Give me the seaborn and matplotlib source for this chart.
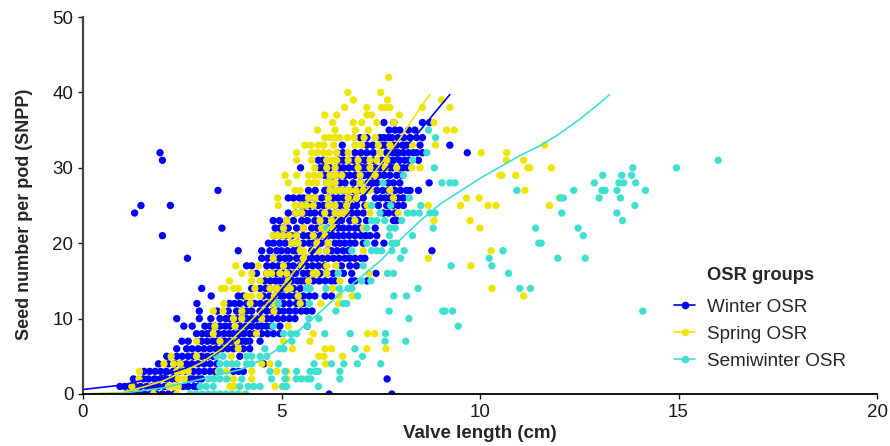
"""Seed number per pod against valve length for three OSR groups, with fitted curves."""
import pandas as pd
import seaborn as sns
import matplotlib
matplotlib.use("Agg")
import matplotlib.pyplot as plt
from matplotlib.lines import Line2D

group_names = ["Winter OSR", "Spring OSR", "Semiwinter OSR"]
group_colors = ["#0000FF", "#EEE600", "#40E0D0"]

# Step 1: points, one list of valve lengths per seed number
winter_seeds = list(range(0, 37))
winter_lengths = [
    [1.1, 1.25, 1.4, 1.55, 1.7, 1.85, 2.0, 2.15, 2.3, 6.2, 7.78],
    [0.93, 1.05, 1.18, 1.31, 1.45, 1.6, 1.75, 1.9, 2.05, 2.1, 2.53, 2.65, 2.8, 2.9],
    [1.27, 1.52, 1.65, 1.8, 1.95, 2.1, 2.25, 2.36, 2.7, 2.78, 2.9, 2.99, 7.66],
    [1.54, 1.68, 1.82, 1.96, 2.1, 2.27, 2.45, 2.6, 2.78, 2.92, 3.06, 3.2, 3.32, 3.79, 3.92, 4.04],
    [1.9, 2.15, 2.32, 2.47, 2.61, 2.75, 2.9, 3.05, 3.2, 3.37, 4.55],
    [2.11, 2.36, 2.5, 2.65, 2.78, 2.99, 3.13, 3.28, 3.95],
    [2.36, 2.61, 2.75, 2.9, 3.05, 3.2, 3.35, 3.5, 3.65, 3.79, 4.04, 4.2],
    [2.49, 2.65, 2.99, 3.13, 3.27, 3.37, 3.5, 3.58, 3.7, 3.79, 3.9, 4.0, 4.1, 4.2, 4.46],
    [2.86, 3.0, 3.12, 3.2, 3.41, 3.55, 3.68, 3.79, 3.91, 4.05, 4.2, 4.32, 4.5, 4.65, 4.8, 4.96],
    [2.54, 2.75, 3.07, 3.2, 3.32, 3.45, 3.58, 3.7, 3.83, 3.95, 4.1, 4.25, 4.4, 4.5, 4.62, 4.75, 4.96, 5.65],
    [2.36, 2.93, 3.22, 3.45, 3.6, 3.7, 3.87, 4.0, 4.12, 4.25, 4.37, 4.5, 4.63, 4.75, 4.9, 5.05, 5.2, 5.34],
    [2.93, 3.38, 3.66, 3.87, 4.0, 4.12, 4.25, 4.46, 4.63, 4.78, 4.92, 5.05, 5.2, 5.35, 5.5, 5.63, 5.77],
    [2.87, 3.69, 3.82, 3.95, 4.12, 4.21, 4.33, 4.47, 4.63, 4.78, 4.92, 5.05, 5.2, 5.38, 5.47, 5.55],
    [3.23, 3.91, 4.04, 4.54, 4.7, 4.85, 4.98, 5.05, 5.2, 5.34, 5.42, 5.55, 5.7, 5.84, 6.1, 6.26],
    [2.99, 4.25, 4.46, 4.6, 4.7, 4.88, 5.0, 5.13, 5.22, 5.3, 5.47],
    [4.58, 4.72, 4.85, 4.95, 5.05, 5.13, 5.26, 5.4, 5.5, 5.59, 5.68, 5.8, 5.95, 6.1, 6.25, 6.35, 6.77, 6.85, 7.16],
    [4.37, 4.63, 4.75, 4.88, 5.05, 5.17, 5.2, 5.35, 5.55, 5.67, 5.8, 5.97, 6.14, 6.3, 6.56, 6.77, 7.38],
    [4.12, 4.25, 4.63, 4.78, 4.92, 5.05, 5.17, 5.3, 5.47, 5.63, 5.78, 5.93, 6.09, 6.51, 6.72, 6.89],
    [2.63, 4.5, 4.65, 4.8, 4.95, 5.09, 5.2, 5.38, 5.5, 5.63, 5.76, 5.89, 6.03, 6.17, 6.31, 6.45, 6.6, 6.72, 6.85, 7.0, 7.1],
    [3.91, 4.5, 4.71, 4.88, 5.0, 5.15, 5.3, 5.38, 5.76, 5.93, 6.14, 6.26, 6.4, 6.55, 6.68, 8.79],
    [4.67, 4.8, 4.95, 5.09, 5.26, 5.42, 5.55, 5.7, 5.8, 5.89, 6.0, 6.18, 6.35, 6.47, 6.6, 6.73, 6.85, 7.06, 7.35, 7.58],
    [2.0, 4.8, 4.95, 5.1, 5.25, 5.38, 5.55, 5.68, 5.83, 5.97, 6.1, 6.18, 6.3, 6.43, 6.56, 6.7, 6.85, 7.0, 7.12, 7.23, 7.4],
    [3.5, 4.84, 4.96, 5.05, 5.17, 5.38, 5.55, 5.76, 5.9, 6.01, 6.17, 6.3, 6.43, 6.56, 6.7, 6.85, 6.98, 7.36],
    [4.79, 4.95, 5.13, 5.3, 5.51, 5.65, 5.84, 5.97, 6.1, 6.26, 6.38, 6.51, 6.72, 6.85, 6.93, 7.14, 7.82, 7.9],
    [1.3, 5.17, 5.36, 5.51, 5.59, 5.72, 5.84, 6.01, 6.2, 6.35, 6.5, 6.64, 6.77, 6.91, 7.06, 7.57, 7.7, 7.86],
    [1.46, 2.2, 5.51, 5.62, 5.72, 5.8, 5.93, 6.06, 6.18, 6.35, 6.47, 6.6, 6.75, 6.89, 7.1, 7.44, 7.65, 7.8, 7.94, 8.07],
    [5.17, 5.3, 5.45, 5.55, 5.68, 5.84, 6.01, 6.18, 6.3, 6.43, 6.56, 6.7, 6.85, 7.06, 7.36, 7.5, 7.62, 7.73, 7.82, 7.94, 8.07],
    [3.4, 5.68, 5.85, 6.09, 6.22, 6.36, 6.5, 6.64, 6.8, 6.95, 7.1, 7.4, 7.55, 7.69, 7.86, 8.0, 8.15, 8.24, 8.45],
    [6.14, 6.28, 6.47, 6.6, 6.81, 6.98, 7.18, 7.3, 7.4, 7.69, 7.82, 7.98, 8.72],
    [6.09, 6.22, 6.36, 6.5, 6.6, 6.72, 6.85, 6.98, 7.08, 7.19, 7.3, 7.46, 7.59, 7.73, 7.9, 8.03],
    [5.48, 5.97, 6.05, 6.22, 6.45, 6.56, 6.7, 6.85, 7.0, 7.06, 7.15, 7.36, 7.5, 7.73, 7.8, 7.98, 8.07, 8.18],
    [2.0, 5.93, 6.05, 6.45, 6.56, 6.7, 6.82, 6.98, 7.1, 7.32, 7.53, 7.7, 7.82, 7.98, 8.11, 8.22, 8.45],
    [1.94, 6.4, 6.55, 6.85, 7.0, 7.15, 7.31, 7.65, 7.78, 7.86, 7.95, 8.07, 8.2, 8.32, 8.4, 8.55, 9.68],
    [6.53, 7.15, 7.3, 7.52, 7.61, 7.82, 7.9, 8.05, 8.15, 8.49, 9.24],
    [6.98, 7.15, 7.48, 7.58, 7.69, 7.78, 7.93, 8.08, 8.24, 8.4, 8.55],
    [7.71, 7.86, 7.98, 8.2, 8.36],
    [7.58, 7.83, 8.55, 8.73],
]

spring_seeds = list(range(0, 43))
spring_lengths = [
    [1.77, 2.36, 2.7, 3.95],
    [1.23, 2.15, 2.28, 2.4, 3.7, 3.8, 4.84, 5.05],
    [1.41, 2.4, 2.55, 3.79, 4.25, 5.13],
    [1.42, 2.36, 2.5, 2.65, 3.41, 3.62, 4.25, 4.88, 5.13],
    [2.04, 2.28, 2.45, 4.5, 4.71, 6.11],
    [2.22, 2.86, 3.74, 5.94, 6.07, 6.54],
    [3.91, 5.28, 6.1, 6.26, 7.15, 7.63],
    [2.86, 3.45, 3.87, 5.05, 5.72],
    [3.28, 4.37, 5.8, 7.17, 7.35],
    [3.32, 3.83, 5.17],
    [3.79, 4.0, 4.5],
    [3.28, 3.53, 4.0, 4.81],
    [3.55, 4.21, 4.79, 5.47, 5.99, 6.43],
    [4.12, 4.25, 4.46, 4.82, 5.42, 6.46, 6.78, 11.1],
    [3.49, 3.58, 3.79, 3.91, 4.33, 4.71, 4.88, 5.13, 5.22, 6.29, 10.3],
    [3.69, 4.25, 4.46, 5.17, 5.68, 6.47],
    [4.0, 4.25, 4.63, 4.75, 4.96, 5.13, 5.8, 5.89, 6.14, 7.21],
    [3.85, 4.42, 5.05, 5.51, 6.14, 6.37, 9.77],
    [4.79, 5.55, 8.7],
    [5.47, 5.55, 5.93, 6.14, 7.06, 10.28],
    [5.26, 5.42, 5.89, 6.18],
    [4.79, 4.92, 5.05, 5.2, 5.38, 5.8, 6.1],
    [5.05, 5.55, 6.01, 6.3, 7.06, 10.0],
    [5.13, 5.97, 6.26, 6.85, 8.84, 9.75],
    [5.36, 5.51, 6.09, 6.35, 6.5, 6.64, 7.23, 7.94],
    [4.92, 5.34, 5.51, 5.63, 5.8, 6.18, 6.35, 6.64, 7.16, 8.7, 9.51, 10.2, 10.4, 11.75],
    [4.9, 5.68, 5.84, 6.18, 6.68, 6.89, 7.82, 9.66, 9.98, 12.0],
    [5.34, 5.47, 6.22, 6.36, 6.5, 6.64, 6.72, 6.87, 7.06, 7.23, 7.73, 11.13],
    [5.17, 5.68, 5.8, 5.89, 6.14, 6.25, 6.35, 6.98],
    [5.09, 5.38, 5.68, 5.82, 5.97, 6.22, 6.36, 6.52, 6.98, 7.36, 10.5, 10.55, 10.9],
    [5.84, 6.14, 6.35, 6.93, 7.23, 7.61, 7.9, 8.28, 8.49, 11.2, 11.25, 11.8],
    [5.38, 5.76, 6.14, 6.28, 6.39, 6.68, 6.93, 7.23, 7.4, 7.65, 10.66, 11.1],
    [5.38, 5.76, 5.9, 6.05, 6.2, 6.39, 6.68, 7.48, 10.03, 10.67],
    [5.59, 5.74, 5.93, 6.07, 6.31, 6.85, 7.02, 7.44, 7.73, 8.3, 8.88, 11.63],
    [6.09, 6.22, 6.35, 6.47, 6.66, 6.83, 7.08, 7.36],
    [5.91, 6.35, 6.86, 7.19, 9.16, 9.35],
    [6.29, 6.81, 7.02, 7.4, 7.83, 8.84],
    [6.09, 6.39, 7.15, 7.27, 7.97],
    [6.59, 7.15, 7.52, 7.62, 7.73, 8.55, 9.24],
    [6.81, 7.67, 9.03],
    [6.67, 7.5],
    [],
    [7.7],
]

semi_seeds = list(range(0, 36))
semi_lengths = [
    [2.7, 2.85, 3.0, 3.15, 3.3, 3.45, 3.6, 3.75, 3.9, 4.1],
    [2.95, 3.1, 3.28, 3.95, 4.16, 4.3, 4.46, 5.03, 5.13, 5.93],
    [3.16, 3.3, 3.45, 3.62, 4.0, 4.75, 5.09, 5.37, 5.5, 5.65, 5.74, 6.47],
    [3.45, 4.71, 5.09, 5.38, 5.72, 5.85, 5.93, 6.47],
    [3.45, 3.62, 3.75, 3.88, 4.12, 4.25, 4.92, 5.82, 6.26, 6.57, 6.91, 7.5],
    [3.37, 3.53, 4.12, 4.25, 4.46, 4.63, 7.04],
    [4.58, 4.96, 5.06, 6.85],
    [5.26, 7.61, 8.13],
    [5.05, 5.23, 5.38, 6.09, 6.73, 7.62],
    [4.79, 5.65, 9.45],
    [5.69, 5.94, 8.21],
    [6.37, 7.71, 9.06, 9.12, 9.31, 14.1],
    [4.92, 5.7, 6.56, 6.64],
    [6.92, 7.83, 8.15],
    [5.63, 5.72, 6.12, 6.46, 6.68, 6.77, 8.44, 11.0, 11.27],
    [7.02, 7.25],
    [6.43, 7.67, 7.82, 10.72],
    [7.06, 9.27, 10.3],
    [8.0, 10.23, 11.96, 12.65],
    [6.77, 7.27, 7.4, 7.52, 7.78, 8.09, 10.58],
    [7.15, 7.78, 7.9, 11.48, 11.54],
    [7.72, 8.3, 12.6],
    [6.14, 7.15, 7.73, 7.86, 8.82, 11.4, 12.47],
    [7.27, 7.4, 7.6, 8.03, 13.59],
    [7.48, 8.17, 8.32, 8.47, 8.74, 8.87, 12.06, 13.45],
    [7.27, 7.75, 8.51, 13.9],
    [8.22, 12.02, 12.1, 13.0, 13.54],
    [10.93, 12.36, 13.07, 13.15, 13.45, 14.17],
    [7.56, 9.04, 9.24, 9.37, 12.88, 13.5, 13.62, 13.92],
    [8.07, 13.09, 13.57, 13.82],
    [8.85, 13.85, 14.95],
    [8.3, 16.0],
    [8.66],
    [],
    [8.88],
    [8.7],
]

# fitted curves
winter_curve_x = [0, 1, 2, 3, 3.5, 4, 4.5, 5, 5.5, 6, 6.5, 7, 7.5, 8, 8.5, 9, 9.24]
winter_curve_y = [0.6, 1.2, 2.4, 4.2, 5.8, 7.8, 10.6, 13.8, 16.7, 20, 22.8, 25.8, 29, 32, 35, 38.2, 39.7]
spring_curve_x = [0, 1, 1.5, 2, 2.5, 3, 3.5, 4, 4.5, 5, 5.5, 6, 6.5, 7, 7.5, 8, 8.5, 8.74]
spring_curve_y = [0, 0.2, 0.9, 1.7, 2.9, 4.2, 6, 8.5, 11.2, 14.2, 17.4, 20.8, 23.9, 27, 30.5, 34, 38, 39.7]
semi_curve_x = [0, 1, 2, 3, 4, 4.5, 5, 5.5, 6, 6.5, 7, 7.5, 8, 8.5, 9, 9.5, 10, 10.5, 11, 11.5, 12, 12.5, 13, 13.26]
semi_curve_y = [0, 0.1, 0.8, 2, 3.3, 4.5, 6.3, 8.7, 11, 13.4, 15.5, 17.7, 20.5, 23, 25.2, 26.9, 28.6, 30.1, 31.6, 32.9, 34.5, 36.4, 38.5, 39.7]

# Step 2: build the tables seaborn wants
rows = []
for name, seeds, lengths in zip(group_names,
                                [winter_seeds, spring_seeds, semi_seeds],
                                [winter_lengths, spring_lengths, semi_lengths]):
    for seed, values in zip(seeds, lengths):
        for value in values:
            rows.append({"group": name, "length": value, "seeds": seed})
df = pd.DataFrame(rows)

curves = pd.concat([
    pd.DataFrame({"group": group_names[0], "length": winter_curve_x, "seeds": winter_curve_y}),
    pd.DataFrame({"group": group_names[1], "length": spring_curve_x, "seeds": spring_curve_y}),
    pd.DataFrame({"group": group_names[2], "length": semi_curve_x, "seeds": semi_curve_y}),
])

sns.set_style("ticks")
plt.rcParams["font.family"] = ["Liberation Sans", "DejaVu Sans"]
palette = dict(zip(group_names, group_colors))

# Step 3: draw
fig = plt.figure(figsize=(8.9, 4.46), dpi=100)
ax = fig.add_axes([83 / 890, 52 / 446, 794 / 890, 377 / 446])
sns.scatterplot(data=df, x="length", y="seeds", hue="group", palette=palette,
                s=28, linewidth=0, alpha=1, legend=False, ax=ax)
sns.lineplot(data=curves, x="length", y="seeds", hue="group", palette=palette,
             estimator=None, sort=False, linewidth=1.2, legend=False, ax=ax)

# Step 4: axes and labels
ax.set_xlim(0, 20)
ax.set_ylim(0, 50)
ax.set_xticks([0, 5, 10, 15, 20])
ax.set_yticks([0, 10, 20, 30, 40, 50])
ax.tick_params(labelsize=13.5, length=3.5, width=1, pad=3.5, colors="#1a1a1a")
ax.set_xlabel("Valve length (cm)", fontsize=13.5, fontweight="bold", labelpad=3)
ax.set_ylabel("Seed number per pod (SNPP)", fontsize=13, fontweight="bold", labelpad=14, y=0.477)
sns.despine(ax=ax)
ax.spines["left"].set_color("#444444")
ax.spines["left"].set_linewidth(1.6)
ax.spines["bottom"].set_color("black")
ax.spines["bottom"].set_linewidth(1.3)

handles = [Line2D([], [], color=c, marker="o", markersize=4.5, linewidth=1.2) for c in group_colors]
legend = ax.legend(handles, group_names, title="OSR groups", frameon=False, fontsize=13.6,
                   title_fontproperties={"weight": "bold", "size": 13.2},
                   loc="lower left", bbox_to_anchor=(674 / 890, 76 / 446),
                   bbox_transform=fig.transFigure, borderpad=0, borderaxespad=0,
                   handlelength=1.12, handletextpad=0.64, labelspacing=0.53)
legend.get_title().set_position((0, 4))

plt.savefig("out.png", dpi=100)
